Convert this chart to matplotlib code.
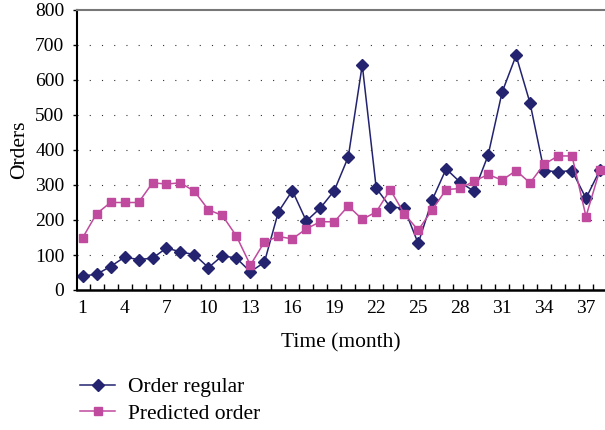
import matplotlib
matplotlib.use("Agg")
import matplotlib.pyplot as plt
import numpy as np

# --- data ---
months = list(range(1, 39))
order_regular = [40, 45, 67, 94, 87, 91, 120, 109, 101, 64, 98, 91, 52,
                 79, 223, 284, 197, 234, 284, 380, 643, 291, 237, 234, 133,
                 257, 346, 308, 282, 385, 565, 670, 534, 341, 338, 341, 262, 343]
predicted_order = [149, 218, 250, 250, 250, 306, 303, 306, 282, 229, 213, 154, 71,
                   137, 153, 146, 175, 195, 195, 240, 202, 223, 287, 218, 171,
                   229, 287, 290, 311, 330, 314, 341, 306, 359, 383, 383, 210, 344]
tick_months = [1, 4, 7, 10, 13, 16, 19, 22, 25, 28, 31, 34, 37]

plt.rcParams['font.family'] = ['Liberation Serif', 'DejaVu Serif']

fig = plt.figure(figsize=(6.05, 4.30), dpi=100)
ax = fig.add_axes([77 / 605, 140 / 430, 528 / 605, 280 / 430])

blue = '#23236f'
pink = '#c04a9e'

ax.plot(months, order_regular, color=blue, lw=1.1, marker='D', ms=6,
        label='Order regular')
ax.plot(months, predicted_order, color=pink, lw=1.1, marker='s', ms=6,
        label='Predicted order')

ax.set_xlim(0.6, 38.36)
ax.set_ylim(0, 800)

# dotted horizontal gridlines
for yv in range(100, 800, 100):
    ax.axhline(yv, color='#333333', lw=0.8, ls=(0, (1, 10)), zorder=0)

ax.set_yticks(range(0, 801, 100))
ax.set_xticks(tick_months)
ax.set_xticks(np.arange(1.5, 38.5, 1), minor=True)
ax.tick_params(axis='x', which='major', length=0, labelsize=14, pad=7)
ax.tick_params(axis='x', which='minor', direction='in', length=4, width=1)
ax.tick_params(axis='y', direction='out', length=3, width=1, labelsize=14, pad=6)

ax.spines['left'].set_linewidth(1.5)
ax.spines['bottom'].set_linewidth(1.8)
ax.spines['top'].set_color('#777777')
ax.spines['top'].set_linewidth(1.5)
ax.spines['right'].set_visible(False)

ax.set_xlabel('Time (month)', fontsize=15.5, labelpad=12)
ax.set_ylabel('Orders', fontsize=15.5, labelpad=4)

fig.legend(loc='upper left', bbox_to_anchor=(61 / 605, 1 - 358 / 430),
           frameon=False, fontsize=15.5, handlelength=1.6, handletextpad=0.6,
           labelspacing=0.3)

fig.savefig('out.png', dpi=100)
